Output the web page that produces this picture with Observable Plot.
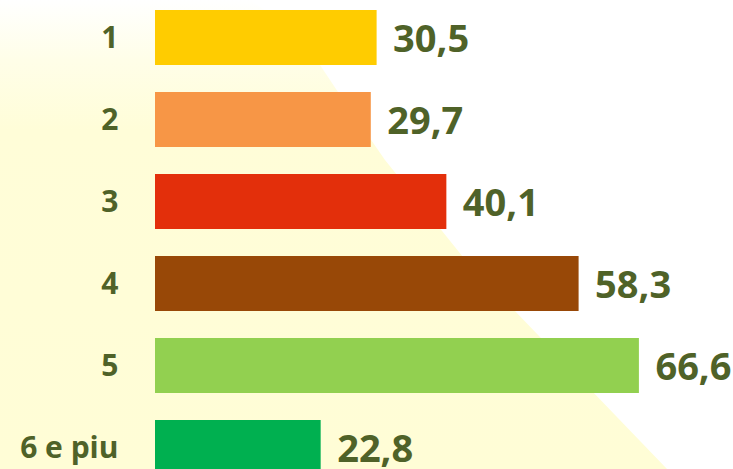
<!DOCTYPE html>
<html>
<head>
<meta charset="utf-8">
<script src="https://cdn.jsdelivr.net/npm/d3@7"></script>
<script src="https://cdn.jsdelivr.net/npm/@observablehq/plot@0.6"></script>
<style>
  html, body { margin: 0; padding: 0; background: #ffffff; }
  #wrap { position: relative; width: 733px; height: 469px; overflow: hidden; }
  #bg {
    position: absolute; left: 0; top: 0; width: 733px; height: 469px;
    background: linear-gradient(to bottom, #ffffff 0px, #fffee8 60px, #fffdd8 130px, #fffdd6 469px);
    clip-path: polygon(0px 0px, 250px 0px, 300px 35px, 340px 95px, 385px 160px, 463px 257px, 667px 469px, 0px 469px);
  }
  #chart { position: absolute; left: 0; top: 0; }
</style>
</head>
<body>
<div id="wrap"><div id="bg"></div><div id="chart"></div></div>
<script>
const categories = ["1", "2", "3", "4", "5", "6 e piu"];
const values = [30.5, 29.7, 40.1, 58.3, 66.6, 22.8];
const colors = ["#FFCC00", "#F79646", "#E32F0B", "#984807", "#92D050", "#00B050"];
const valueLabels = ["30,5", "29,7", "40,1", "58,3", "66,6", "22,8"];

const data = categories.map((c, i) => ({cat: c, value: values[i], color: colors[i], label: valueLabels[i]}));
const textColor = "#4F6228";

const chart = Plot.plot({
  width: 733,
  height: 469,
  marginLeft: 155,
  marginRight: 4,
  marginTop: 0,
  marginBottom: 0,
  style: {background: "transparent", fontFamily: "'Open Sans', sans-serif", overflow: "hidden"},
  x: {domain: [0, 79], axis: null},
  y: {domain: categories, range: [8, 478], paddingInner: 0.327, paddingOuter: 0, label: null},
  marks: [
    Plot.barX(data, {x: "value", y: "cat", fill: "color"}),
    Plot.text(data, {x: "value", y: "cat", text: "label", textAnchor: "start", dx: 16, dy: 2,
      fontSize: 38, fontWeight: "bold", fill: textColor}),
    Plot.axisY({tickSize: 0, tickPadding: 37, fontSize: 30, fontWeight: "bold", fill: textColor, label: null})
  ]
});
document.getElementById("chart").appendChild(chart);
</script>
</body>
</html>
